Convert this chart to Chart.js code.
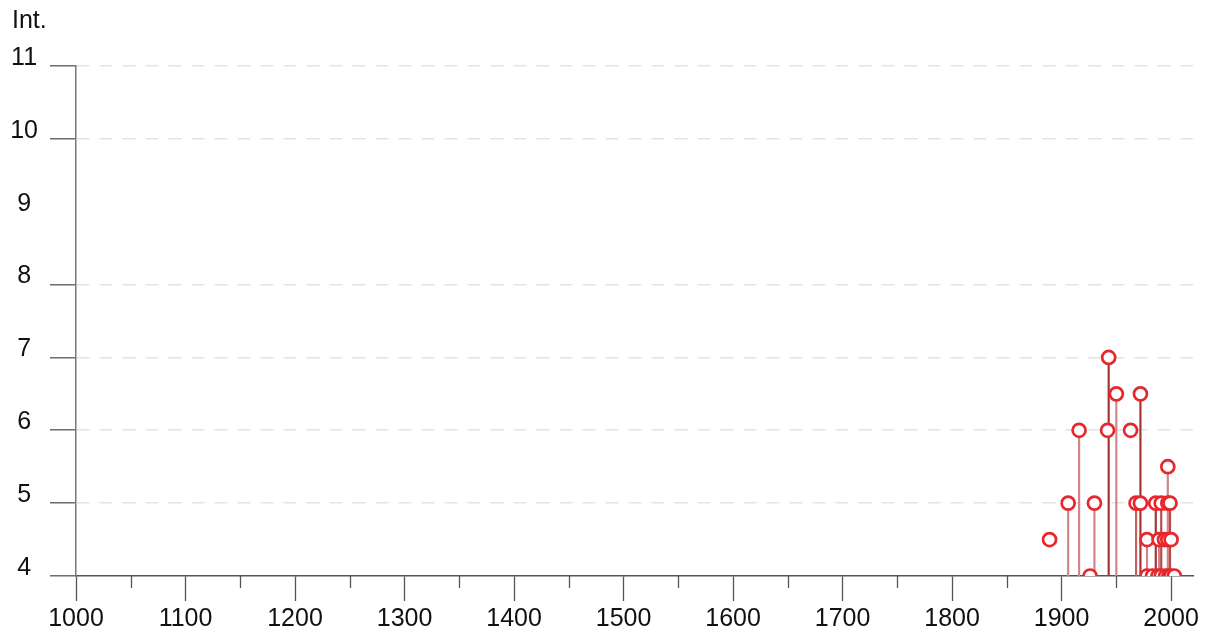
<!DOCTYPE html>
<html>
<head>
<meta charset="utf-8">
<script src="https://cdn.jsdelivr.net/npm/chart.js@4/dist/chart.umd.min.js"></script>
<style>
  body { margin: 0; background: #fff; }
  #wrap { width: 1211px; height: 632px; }
</style>
</head>
<body>
<div id="wrap"><canvas id="intChart"></canvas></div>
<script>
// events: year and intensity
const years  = [1889, 1906, 1916, 1926, 1930, 1942, 1943, 1950, 1963, 1968, 1972, 1972, 1978, 1978, 1983, 1986, 1988, 1989, 1991, 1991, 1994, 1995, 1997, 1997, 1997, 1998, 1999, 2000, 2000, 2003];
const values = [4.5,  5,    6,    4,    5,    6,    7,    6.5,  6,    5,    5,    6.5,  4.5,  4,    4,    5,    4,    4.5,  5,    4,    4.5,  4,    5.5,  5,    4.5,  4,    5,    4.5,  4,    4];

// vertical stems down to the baseline
const stemYears  = [1906, 1916, 1930, 1943, 1950, 1968, 1972, 1978, 1986, 1989, 1991, 1997, 1999];
const stemValues = [5,    6,    5,    7,    6.5,  5,    6.5,  4.5,  5,    4.5,  5,    5.5,  5];
const stemColors = ['#cf8585', '#cf8585', '#cf8585', '#a83030', '#cf8585', '#c06060', '#a83030', '#cf8585', '#a83030', '#cf8585', '#b84848', '#cf8585', '#b84848'];

const yTicks = [4, 5, 6, 7, 8, 9, 10, 11];
const xMajor = [1000, 1100, 1200, 1300, 1400, 1500, 1600, 1700, 1800, 1900, 2000];
const xMinor = [1050, 1150, 1250, 1350, 1450, 1550, 1650, 1750, 1850, 1950];

const font = "'Liberation Sans', Arial, sans-serif";

const minorTicks = {
    id: 'minorTicks',
    beforeDatasetsDraw(chart) {
        const x = chart.scales.x;
        const c = chart.ctx;
        c.save();
        c.strokeStyle = '#555';
        c.lineWidth = 1.3;
        c.beginPath();
        xMinor.forEach(v => {
            const px = Math.round(x.getPixelForValue(v)) + 0.5;
            c.moveTo(px, x.top);
            c.lineTo(px, x.top + 12);
        });
        c.stroke();
        c.restore();
    }
};

new Chart(document.getElementById('intChart'), {
    type: 'scatter',
    data: {
        datasets: [{
            data: years.map((y, i) => ({ x: y, y: values[i] })),
            pointRadius: 6.5,
            pointHoverRadius: 6.5,
            borderWidth: 2.7,
            borderColor: '#e8262b',
            backgroundColor: '#ffffff',
            order: 0
        }, {
            type: 'bar',
            data: stemYears.map((y, i) => ({ x: y, y: [4, stemValues[i]] })),
            backgroundColor: stemColors,
            borderWidth: 0,
            barThickness: 1.5,
            grouped: false,
            order: 1
        }]
    },
    options: {
        responsive: true,
        maintainAspectRatio: false,
        animation: false,
        layout: { padding: { left: 12, right: 18, top: 0, bottom: 0 } },
        plugins: {
            legend: { display: false },
            tooltip: { enabled: false },
            title: {
                display: true,
                text: 'Int.',
                align: 'start',
                color: '#111',
                font: { family: font, size: 25, weight: 'normal', lineHeight: 1.2 },
                padding: { top: 6, bottom: 30 }
            }
        },
        scales: {
            x: {
                type: 'linear',
                min: 1000,
                max: 2020,
                offset: false,
                afterBuildTicks: s => { s.ticks = xMajor.map(v => ({ value: v })); },
                afterFit: s => { s.height = 56; },
                ticks: {
                    color: '#111',
                    font: { family: font, size: 25 },
                    padding: 3,
                    maxRotation: 0,
                    autoSkip: false,
                    callback: v => String(v)
                },
                grid: {
                    offset: false,
                    drawOnChartArea: false,
                    tickLength: 25,
                    tickColor: '#555',
                    tickWidth: 1.3
                },
                border: { color: '#555', width: 1.5 }
            },
            y: {
                type: 'linear',
                min: 4,
                max: 11,
                afterBuildTicks: s => { s.ticks = yTicks.map(v => ({ value: v })); },
                afterFit: s => { s.width = 64; },
                ticks: {
                    color: '#111',
                    font: { family: font, size: 25 },
                    padding: 12,
                    crossAlign: 'center',
                    labelOffset: -8
                },
                grid: {
                    offset: false,
                    color: c => (c.tick && (c.tick.value === 9 || c.tick.value === 4)) ? 'rgba(0,0,0,0)' : '#e3e3e3',
                    lineWidth: 1.6,
                    tickLength: 26,
                    tickWidth: 1.3,
                    tickColor: c => (c.tick && c.tick.value === 9) ? 'rgba(0,0,0,0)' : '#555'
                },
                border: { color: '#777', width: 1.5, dash: [13, 10] }
            }
        }
    },
    plugins: [minorTicks]
});
</script>
</body>
</html>
